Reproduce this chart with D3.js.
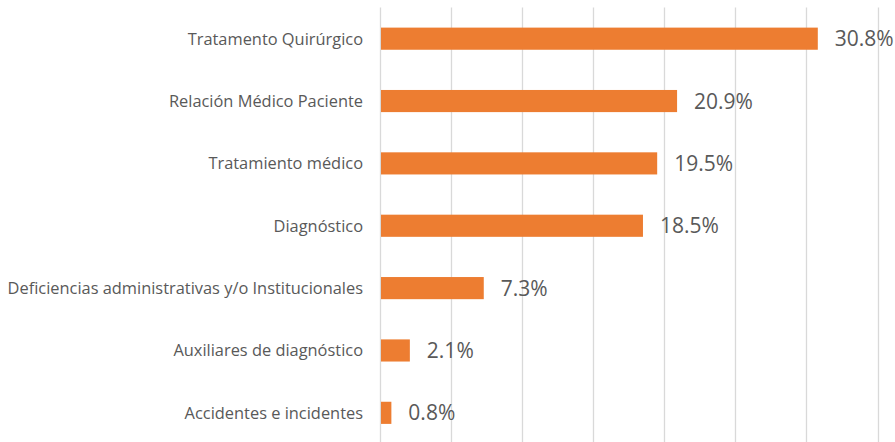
<!DOCTYPE html>
<html>
<head>
<meta charset="utf-8">
<script src="https://cdn.jsdelivr.net/npm/d3@7"></script>
<style>
  body { margin: 0; background: #fff; }
  text { font-family: "Open Sans", Lato, sans-serif; fill: #595959; }
</style>
</head>
<body>
<div id="chart"></div>
<script>
var categories = [
    "Tratamento Quirúrgico",
    "Relación Médico Paciente",
    "Tratamiento médico",
    "Diagnóstico",
    "Deficiencias administrativas y/o Institucionales",
    "Auxiliares de diagnóstico",
    "Accidentes e incidentes"
];
var values = [30.8, 20.9, 19.5, 18.5, 7.3, 2.1, 0.8];
var ticks = [0, 5, 10, 15, 20, 25, 30, 35];

var W = 895, H = 442;
var margin = { top: 7.5, right: 17.5, bottom: -2, left: 380 };
var width = W - margin.left - margin.right,
    height = H - margin.top - margin.bottom;

var svg = d3.select("#chart").append("svg")
    .attr("width", W)
    .attr("height", H)
    .append("g")
    .attr("transform", "translate(" + margin.left + "," + margin.top + ")");

var x = d3.scaleLinear().domain([0, 35]).range([0, width]);
var y = d3.scaleBand().domain(categories).range([0, height]);

// gridlines
svg.selectAll(".grid")
    .data(ticks)
    .enter().append("line")
    .attr("x1", function (d) { return Math.round(x(d)) + 0.5; })
    .attr("x2", function (d) { return Math.round(x(d)) + 0.5; })
    .attr("y1", 0)
    .attr("y2", height)
    .attr("stroke", "#d9d9d9")
    .attr("stroke-width", 1.3);

var barH = y.bandwidth() * 0.355;

svg.selectAll(".bar")
    .data(values)
    .enter().append("rect")
    .attr("class", "bar")
    .attr("x", x(0) + 1)
    .attr("y", function (d, i) { return y(categories[i]) + (y.bandwidth() - barH) / 2; })
    .attr("width", function (d) { return x(d) - x(0) - 1; })
    .attr("height", barH)
    .attr("fill", "#ED7D31");

// value labels
svg.selectAll(".val")
    .data(values)
    .enter().append("text")
    .attr("x", function (d) { return x(d) + 17; })
    .attr("y", function (d, i) { return y(categories[i]) + y.bandwidth() / 2; })
    .attr("dy", "0.36em")
    .style("font-size", "21px")
    .text(function (d) { return d.toFixed(1) + "%"; });

// category labels
svg.selectAll(".cat")
    .data(categories)
    .enter().append("text")
    .attr("x", -17)
    .attr("y", function (d) { return y(d) + y.bandwidth() / 2; })
    .attr("dy", "0.36em")
    .attr("text-anchor", "end")
    .style("font-size", "16.4px")
    .text(function (d) { return d; });
</script>
</body>
</html>
